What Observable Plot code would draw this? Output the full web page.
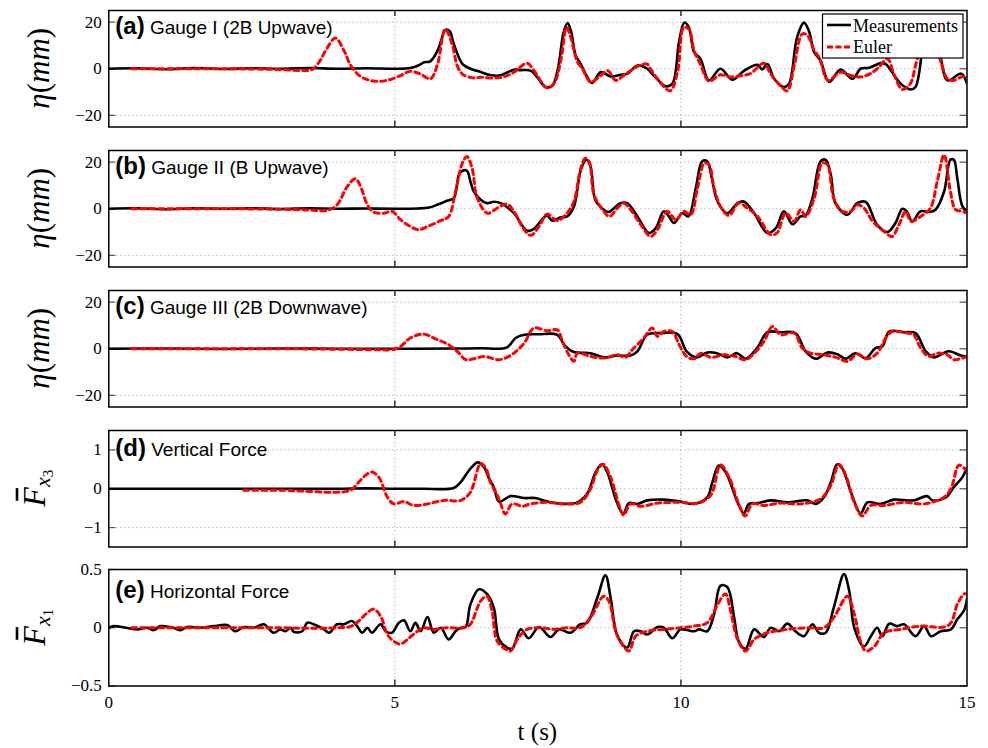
<!DOCTYPE html>
<html><head><meta charset="utf-8">
<script src="https://cdn.jsdelivr.net/npm/d3@7"></script>
<script src="https://cdn.jsdelivr.net/npm/@observablehq/plot@0.6"></script>
<style>
html,body{margin:0;padding:0;background:#fff;}
#chart{position:relative;width:988px;height:748px;overflow:hidden;background:#fff;}
</style></head><body><div id="chart"></div>
<script>
// ---------- data ----------
const xDomain = [0, 15];
const xTickValues = [0, 5, 10, 15];
const xGridValues = [5, 10];
const panelLetters = ["(a)", "(b)", "(c)", "(d)", "(e)"];
const panelTitles = ["Gauge I (2B Upwave)", "Gauge II (B Upwave)", "Gauge III (2B Downwave)", "Vertical Force", "Horizontal Force"];
const seriesNames = ["Measurements", "Euler"];
const xAxisLabel = "t (s)";
const yDomains = [[-25, 25], [-25, 25], [-25, 25], [-1.5, 1.5], [-0.5, 0.5]];
const yTickValues = [[-20, 0, 20], [-20, 0, 20], [-20, 0, 20], [-1, 0, 1], [-0.5, 0, 0.5]];

const measA = [[0,0],[0.5,0.2],[1,-0.2],[1.5,0.3],[2,-0.1],[2.5,0.2],[3,0],[3.5,0.3],[4,0],[4.5,0.2],[5,0],[5.27,0.3],[5.42,1.5],[5.51,2.8],[5.62,3.2],[5.75,8],[5.89,16.8],[5.96,16],[6.03,10.6],[6.18,2.1],[6.3,0.2],[6.38,-0.5],[6.5,-1.4],[6.68,-2.8],[6.85,-2.8],[7.08,-0.4],[7.2,-0.6],[7.37,-0.8],[7.5,-4],[7.63,-7.8],[7.75,-7.3],[7.85,0],[7.95,15.6],[8.02,19.6],[8.08,16],[8.16,5.7],[8.25,2],[8.35,-3],[8.45,-6.1],[8.6,-1.4],[8.77,-3.3],[8.95,-2.6],[9.06,-2.2],[9.24,1.4],[9.41,0],[9.53,-3],[9.73,-7.5],[9.85,-6.4],[9.97,12],[10.06,19.8],[10.14,17.7],[10.23,7.1],[10.34,4.3],[10.49,-5],[10.69,0],[10.9,-4.7],[11.1,-0.9],[11.34,1.7],[11.42,-0.3],[11.51,2],[11.63,-4.3],[11.8,-7.9],[11.89,-6.4],[12.03,13.5],[12.15,19.8],[12.24,16],[12.33,7.1],[12.44,3.5],[12.59,-5.7],[12.79,-0.3],[13.0,-4.3],[13.14,0],[13.29,0.4],[13.49,2.4],[13.58,2],[13.67,-0.7],[13.84,-6.4],[14.01,-8.9],[14.1,-7.8],[14.22,7.8],[14.33,19.5],[14.42,18],[14.54,4.9],[14.66,-5],[14.9,-2.1],[15,-6.4]];
const eulerA = [[0.4,0],[1,0],[1.5,0],[2,0],[2.5,-0.1],[2.9,-0.3],[3.35,-0.7],[3.55,-0.4],[3.68,3],[3.79,7.8],[3.96,13.2],[4.11,7.8],[4.23,1.4],[4.4,-3.3],[4.63,-5.3],[4.86,-5],[5.1,-2.9],[5.27,-1.1],[5.45,-2.3],[5.62,-4.3],[5.74,1.4],[5.88,17],[6.0,10.6],[6.09,1.4],[6.18,-2.3],[6.38,-4],[6.5,-3.6],[6.67,-4],[6.9,-3.5],[7.08,-1.5],[7.31,2.4],[7.43,-0.7],[7.66,-8.3],[7.78,-6.4],[7.9,3.5],[8.0,17.7],[8.07,13.8],[8.19,3],[8.28,0],[8.42,-5.7],[8.6,-2.9],[8.72,-0.8],[8.86,-5],[9.0,-2.9],[9.24,1],[9.41,2],[9.47,-0.2],[9.59,-4.3],[9.81,-9.5],[9.94,-1.5],[10.05,17.7],[10.14,17],[10.23,7.8],[10.34,2],[10.49,-5.3],[10.69,-2.6],[10.85,-3.5],[11.05,-3],[11.22,-2],[11.45,2.4],[11.57,-2.3],[11.74,-7.3],[11.86,-9.5],[11.98,1.4],[12.12,14.9],[12.21,14.4],[12.33,7.8],[12.42,4.7],[12.57,-5],[12.79,-1.5],[12.97,-2.9],[13.14,-3.5],[13.32,-2],[13.46,0.7],[13.61,4.3],[13.73,-2.9],[13.87,-8.9],[14.01,-6.4],[14.1,1.4],[14.19,9.8],[14.3,17],[14.4,15],[14.51,5.7],[14.66,-4.3],[14.77,-5],[14.92,-3.3],[15,-3.6]];

const measB = [[0,0],[0.5,0.2],[1,-0.2],[1.5,0.2],[2,0],[2.5,0.2],[3,-0.1],[3.5,0.2],[4,0],[4.5,0.1],[5,0],[5.4,0.1],[5.6,0.5],[5.74,1.7],[5.91,3.4],[6.03,4.6],[6.12,14.6],[6.18,16.3],[6.26,16.3],[6.32,11.7],[6.38,7.4],[6.5,3.9],[6.61,2.4],[6.73,3],[6.85,2.4],[7.08,-1.9],[7.31,-9.4],[7.43,-8.6],[7.57,-4.7],[7.66,-2.9],[7.75,-5.1],[7.9,-3.7],[8.01,-3.3],[8.13,1],[8.25,16.7],[8.35,21],[8.42,18.1],[8.5,3.9],[8.59,1],[8.73,-1.4],[8.94,2.4],[9.06,2.4],[9.24,-3.3],[9.44,-10.4],[9.56,-8.3],[9.7,-1.1],[9.79,-3.3],[9.88,-6.1],[10.02,-1.9],[10.13,-3.3],[10.26,8.9],[10.37,20.3],[10.46,20.3],[10.54,13.1],[10.64,3.1],[10.81,-1.9],[10.99,2.4],[11.1,3.1],[11.28,-1.9],[11.51,-10.4],[11.66,-8.3],[11.8,-1.1],[11.95,-6.6],[12.09,-3.3],[12.18,-2.9],[12.3,4.6],[12.44,20.3],[12.53,21],[12.62,14.6],[12.7,2.4],[12.91,-2.6],[13.08,2.4],[13.23,2.9],[13.43,-6.9],[13.61,-10],[13.75,-6.1],[13.87,0],[13.95,-1.1],[14.04,-5.4],[14.19,-1.1],[14.34,-1.4],[14.45,-0.4],[14.6,7.4],[14.71,21],[14.77,21],[14.83,13.1],[14.92,1],[15,-1.1]];
const eulerB = [[0.4,0],[1,0],[2,0],[3,-0.2],[3.5,-0.5],[3.82,-0.7],[3.99,1.7],[4.17,9.6],[4.31,12.9],[4.4,9.6],[4.52,1.7],[4.63,-1.4],[4.81,-1.9],[4.95,-1.1],[5.1,-4.7],[5.27,-7.6],[5.42,-9],[5.57,-7.6],[5.8,-5.1],[5.94,-3.3],[6.06,7.4],[6.18,19.6],[6.26,22.4],[6.35,17.4],[6.44,4.6],[6.62,-1.9],[6.79,0.3],[6.96,2],[7.08,-1.1],[7.26,-9],[7.38,-11.4],[7.52,-7.6],[7.66,-2.3],[7.84,-5.1],[8.01,-1.9],[8.13,3.1],[8.25,17.4],[8.33,21.7],[8.4,20],[8.48,6],[8.63,-0.4],[8.75,-3.3],[8.89,0.3],[9.0,2.4],[9.12,-0.4],[9.3,-6.9],[9.47,-11.9],[9.59,-9],[9.76,-1.1],[9.91,-4.7],[10.05,-1.1],[10.17,-2.6],[10.29,8.9],[10.41,19.6],[10.49,18.9],[10.58,8.9],[10.69,1],[10.84,-2.9],[11.01,2.4],[11.16,0.3],[11.34,-3.3],[11.57,-11.1],[11.68,-10.4],[11.83,-1.9],[11.98,-5.4],[12.09,-0.4],[12.18,-3.3],[12.33,4.6],[12.47,19.6],[12.56,18.9],[12.67,4.6],[12.82,-1.1],[12.97,-1.1],[13.08,1.7],[13.2,0.3],[13.35,-5.4],[13.55,-9.7],[13.69,-11.9],[13.81,-6.9],[13.93,-1.1],[14.02,-5.4],[14.19,-3.3],[14.36,0.3],[14.48,11.7],[14.6,23.1],[14.71,7.4],[14.8,-0.4],[14.92,-1.1],[15,-1.9]];

const measC = [[0,0],[1,0.1],[2,-0.1],[3,0.1],[4,0],[5,0],[6,0.1],[6.5,0.2],[6.96,0.6],[7.11,4.6],[7.26,6],[7.5,6.2],[7.84,6],[7.96,1.7],[8.13,-1.4],[8.42,-1.9],[8.66,-3.7],[8.89,-2.9],[9.12,-2.9],[9.24,-1.1],[9.41,6],[9.64,6.7],[9.94,6.3],[10.1,-1.1],[10.28,-3.7],[10.46,-1.6],[10.63,-1.9],[10.81,-3.7],[10.98,-1.9],[11.13,-4.3],[11.33,0.3],[11.51,7.1],[11.74,7.1],[12.0,6.7],[12.18,-1.1],[12.36,-4.3],[12.56,-1.6],[12.73,-2.3],[12.88,-4.3],[13.05,-1.9],[13.23,-4],[13.4,0.3],[13.52,1],[13.64,7.4],[13.9,7.1],[14.1,6.7],[14.28,-1.1],[14.42,-3.7],[14.68,-1.1],[14.89,-2.9],[15,-3.3]];
const eulerC = [[0.4,0],[1,0],[2,0],[3,0],[4,-0.2],[4.6,-0.4],[4.98,-0.3],[5.1,1],[5.27,4.6],[5.5,6.3],[5.68,4.6],[5.94,1.7],[6.09,-1.1],[6.24,-4.7],[6.38,-4.3],[6.56,-3.3],[6.79,-4.7],[6.9,-4.3],[7.08,-1.9],[7.26,2.4],[7.43,8.9],[7.66,7.7],[7.84,8.1],[7.93,3.1],[8.04,-2.6],[8.13,-5.4],[8.19,-1.9],[8.42,-3.3],[8.66,-4],[8.89,-2.6],[9.03,-3.7],[9.15,-0.4],[9.35,4.6],[9.5,8.9],[9.59,5.3],[9.7,7.4],[9.85,7.4],[9.97,1.7],[10.1,-3.3],[10.23,-4.3],[10.35,-1.9],[10.52,-3.7],[10.76,-2.6],[10.95,-3.3],[11.13,-4.7],[11.28,-1.9],[11.45,3.1],[11.6,9.6],[11.74,6],[11.98,6.7],[12.12,0.3],[12.27,-1.9],[12.5,-2.6],[12.71,-3.7],[12.91,-5.4],[13.08,-2.3],[13.26,-4.3],[13.43,-1.9],[13.58,4.6],[13.69,7.4],[13.96,6.7],[14.07,6],[14.19,0.3],[14.33,-3.3],[14.48,-1.9],[14.66,-2.6],[14.77,-4.7],[15,-3.3]];

const measD = [[0,0],[1,0],[2,0],[3,0],[4,0],[4.5,0.01],[5,0],[5.5,0],[6.03,0.02],[6.15,0.17],[6.32,0.52],[6.45,0.68],[6.56,0.55],[6.65,0.25],[6.73,0.04],[6.82,-0.33],[7.02,-0.19],[7.26,-0.24],[7.45,-0.24],[7.66,-0.33],[7.95,-0.39],[8.19,-0.35],[8.36,-0.13],[8.51,0.43],[8.62,0.63],[8.71,0.43],[8.88,-0.35],[8.99,-0.65],[9.09,-0.37],[9.24,-0.39],[9.41,-0.3],[9.7,-0.28],[9.99,-0.33],[10.23,-0.39],[10.46,-0.22],[10.55,0.17],[10.66,0.6],[10.78,0.43],[10.99,-0.35],[11.1,-0.63],[11.19,-0.39],[11.34,-0.37],[11.57,-0.3],[11.86,-0.35],[12.21,-0.3],[12.36,-0.39],[12.5,-0.22],[12.62,0.17],[12.73,0.63],[12.82,0.52],[12.99,-0.17],[13.14,-0.63],[13.26,-0.35],[13.49,-0.39],[13.72,-0.28],[14.07,-0.3],[14.3,-0.19],[14.4,-0.3],[14.63,-0.22],[14.77,0.04],[14.92,0.3],[15,0.54]];
const eulerD = [[2.36,-0.04],[3.06,-0.04],[3.5,-0.07],[3.93,-0.09],[4.22,-0.04],[4.37,0.17],[4.49,0.35],[4.6,0.43],[4.72,0.3],[4.87,-0.22],[4.98,-0.39],[5.16,-0.33],[5.33,-0.43],[5.57,-0.39],[5.86,-0.3],[6.15,-0.3],[6.32,-0.09],[6.5,0.65],[6.6,0.5],[6.67,0.17],[6.79,-0.17],[6.85,-0.39],[6.93,-0.65],[7.05,-0.39],[7.23,-0.45],[7.37,-0.39],[7.66,-0.35],[7.95,-0.39],[8.24,-0.35],[8.42,0],[8.54,0.48],[8.64,0.63],[8.77,0.3],[8.92,-0.43],[9.0,-0.68],[9.12,-0.39],[9.3,-0.45],[9.59,-0.37],[9.99,-0.35],[10.29,-0.37],[10.52,-0.17],[10.69,0.61],[10.84,0.3],[11.02,-0.43],[11.12,-0.7],[11.25,-0.39],[11.45,-0.43],[11.74,-0.37],[12.09,-0.39],[12.44,-0.26],[12.62,0.09],[12.76,0.63],[12.88,0.35],[13.03,-0.35],[13.17,-0.7],[13.32,-0.43],[13.55,-0.43],[13.9,-0.35],[14.25,-0.39],[14.6,-0.22],[14.72,0],[14.86,0.61],[14.98,0.48]];

const measE = [[0,0],[0.09,0.014],[0.3,0],[0.5,-0.014],[0.67,0],[0.79,-0.02],[0.9,0.014],[1.13,0],[1.25,-0.02],[1.37,0.006],[1.6,0],[1.84,0.014],[2.07,0.023],[2.21,-0.03],[2.36,0.006],[2.54,0],[2.71,0.03],[2.88,-0.043],[3.0,-0.014],[3.09,-0.03],[3.18,0],[3.23,-0.035],[3.38,-0.03],[3.47,0.043],[3.61,0.023],[3.76,-0.014],[3.85,-0.043],[3.99,0.03],[4.11,0.03],[4.25,0.058],[4.34,0.014],[4.43,-0.043],[4.52,0],[4.6,-0.043],[4.75,0.03],[4.84,-0.03],[4.95,-0.043],[5.07,0.043],[5.16,0.064],[5.27,-0.03],[5.36,0.043],[5.45,-0.03],[5.57,0.092],[5.68,-0.043],[5.8,0],[5.94,-0.1],[6.06,-0.03],[6.15,0],[6.24,0.01],[6.32,0.2],[6.47,0.33],[6.61,0.29],[6.73,0.17],[6.82,-0.1],[6.96,-0.17],[7.05,-0.18],[7.2,-0.014],[7.34,-0.09],[7.52,0.006],[7.72,-0.08],[7.87,-0.014],[8.07,-0.043],[8.24,0.03],[8.36,0.043],[8.54,0.26],[8.68,0.45],[8.77,0.26],[8.89,-0.07],[9.06,-0.17],[9.18,-0.03],[9.3,-0.03],[9.41,-0.058],[9.59,0.006],[9.7,0],[9.85,-0.09],[9.99,-0.014],[10.11,-0.02],[10.23,-0.03],[10.32,-0.014],[10.46,-0.03],[10.58,0.116],[10.69,0.36],[10.81,0.35],[10.93,0.087],[11.01,-0.116],[11.13,-0.18],[11.28,-0.014],[11.45,-0.08],[11.57,0],[11.72,-0.03],[11.86,0.035],[12.0,-0.03],[12.15,-0.072],[12.3,0.03],[12.41,-0.043],[12.53,-0.043],[12.67,0.17],[12.85,0.46],[12.94,0.32],[13.03,0],[13.2,-0.16],[13.32,-0.072],[13.43,0],[13.52,-0.072],[13.64,0.035],[13.78,0.014],[13.9,0.03],[14.1,-0.072],[14.25,0.014],[14.37,-0.072],[14.54,-0.03],[14.72,-0.014],[14.83,0.072],[14.95,0.15],[15,0.25]];
const eulerE = [[0.4,0],[1,0],[2,0],[3,0],[3.5,-0.005],[4.0,0],[4.22,0.01],[4.37,0.058],[4.52,0.13],[4.63,0.16],[4.75,0.1],[4.87,-0.058],[4.98,-0.116],[5.1,-0.14],[5.22,-0.1],[5.36,-0.043],[5.51,0],[5.68,-0.014],[5.9,0],[6.21,0],[6.32,0.03],[6.5,0.23],[6.61,0.27],[6.7,0.14],[6.79,-0.116],[6.96,-0.19],[7.02,-0.2],[7.14,-0.1],[7.31,-0.014],[7.55,0],[7.78,-0.014],[8.01,0],[8.24,0],[8.42,0.087],[8.65,0.27],[8.74,0.23],[8.86,-0.03],[8.97,-0.14],[9.09,-0.2],[9.21,-0.072],[9.41,-0.03],[9.7,-0.014],[9.99,0],[10.23,0.014],[10.46,0.043],[10.64,0.2],[10.78,0.29],[10.87,0.14],[10.99,-0.1],[11.13,-0.2],[11.28,-0.1],[11.51,-0.043],[11.86,-0.014],[12.21,0],[12.5,0],[12.67,0.087],[12.91,0.27],[13.03,0.116],[13.14,-0.116],[13.23,-0.2],[13.38,-0.16],[13.55,-0.043],[13.84,-0.014],[14.19,0.014],[14.6,0.006],[14.72,0.043],[14.83,0.2],[14.95,0.29],[15,0.29]];

const measSeries = [measA, measB, measC, measD, measE];
const eulerSeries = [eulerA, eulerB, eulerC, eulerD, eulerE];

// ---------- layout ----------
const W = 988, ML = 108.3, MR = 21.5, MT = 10, AREA_H = 116.5;
const AREA_W = W - ML - MR;
const panelTops = [0, 139.5, 279.5, 419.5, 559];
const titleOffsets = [24, 24, 24, 25.7, 29.3];
const SERIF = "'Liberation Serif', 'Times New Roman', serif";
const SANS = "'Liberation Sans', Arial, Helvetica, sans-serif";
const fmt = d => (d < 0 ? "\u2212" : "") + Math.abs(d);
const container = document.getElementById("chart");

function buildPanel(i) {
  const last = i === 4;
  const H = last ? 748 - panelTops[i] : 140;
  const MB = H - MT - AREA_H;
  const yt = yTickValues[i];
  const yd = yDomains[i];
  const marks = [
    Plot.gridY({ticks: yt.filter(v => v > yd[0] && v < yd[1]), stroke: "#a0a0a0", strokeOpacity: 1, strokeWidth: 1, strokeDasharray: "1,3"}),
    Plot.gridX({ticks: xGridValues, stroke: "#a0a0a0", strokeOpacity: 1, strokeWidth: 1, strokeDasharray: "1,3"}),
    Plot.ruleX(xGridValues, {stroke: "#000", strokeWidth: 1.2, insetBottom: AREA_H - 6}),
    Plot.ruleX(xGridValues, {stroke: "#000", strokeWidth: 1.2, insetTop: AREA_H - 6}),
    Plot.ruleY(yt, {stroke: "#555", strokeWidth: 1.2, insetRight: AREA_W - 7}),
    Plot.ruleY(yt, {stroke: "#555", strokeWidth: 1.2, insetLeft: AREA_W - 7}),
    Plot.line(measSeries[i], {x: d => d[0], y: d => d[1], stroke: "#000", strokeWidth: 2.6, curve: "catmull-rom", clip: true}),
    Plot.line(eulerSeries[i], {x: d => d[0], y: d => d[1], stroke: "#ff0000", strokeWidth: 3, strokeDasharray: "5,4", curve: "catmull-rom", clip: true}),
    Plot.frame({stroke: "#000", strokeWidth: 1.5}),
    Plot.axisY({ticks: yt, tickSize: 0, tickPadding: 7, tickFormat: fmt, fontSize: 17, fill: "#000"})
  ];
  if (last) {
    marks.push(Plot.axisX({ticks: xTickValues, tickSize: 0, tickPadding: 10, tickFormat: d => String(d), fontSize: 17, fill: "#000"}));
  }
  const svg = Plot.plot({
    width: W, height: H,
    marginLeft: ML, marginRight: MR, marginTop: MT, marginBottom: MB,
    x: {domain: xDomain, axis: last ? undefined : null},
    y: {domain: yd},
    style: {fontFamily: SERIF, fontSize: "17px", background: "transparent", color: "#000", overflow: "visible"},
    marks
  });
  svg.style.position = "absolute";
  svg.style.left = "0px";
  svg.style.top = panelTops[i] + "px";
  container.appendChild(svg);

  const s = d3.select(svg);
  const cy = MT + AREA_H / 2;
  // panel title
  const tt = s.append("text").attr("x", ML + 7).attr("y", MT + titleOffsets[i]).attr("fill", "#000")
    .attr("font-family", SANS).attr("text-anchor", "start");
  tt.append("tspan").attr("font-weight", "bold").attr("font-size", 24).text(panelLetters[i]);
  tt.append("tspan").attr("font-size", 19).text(" " + panelTitles[i]);

  // y label
  if (i < 3) {
    const g = s.append("g").attr("transform", `translate(49,${cy}) rotate(-90)`);
    const t = g.append("text").attr("text-anchor", "middle").attr("font-family", SERIF).attr("font-size", 31).attr("fill", "#000");
    t.append("tspan").attr("font-style", "italic").text("\u03b7");
    t.append("tspan").text("(");
    t.append("tspan").attr("font-style", "italic").text("mm");
    t.append("tspan").text(")");
  } else {
    const g = s.append("g").attr("transform", `translate(45,${cy}) rotate(-90)`);
    const t = g.append("text").attr("font-family", SERIF).attr("fill", "#000").attr("text-anchor", "start");
    t.append("tspan").attr("font-style", "italic").attr("font-size", 32).text("F");
    t.append("tspan").attr("font-style", "italic").attr("font-size", 22).attr("dy", 5).text("x");
    t.append("tspan").attr("font-size", 15).attr("dy", 3).text(i === 3 ? "3" : "1");
    const L = t.node().getComputedTextLength();
    t.attr("x", -L / 2);
    const fw = t.node().getSubStringLength(0, 1);
    g.append("line").attr("x1", -L / 2 + fw * 0.3).attr("x2", -L / 2 + fw * 0.95)
      .attr("y1", -28).attr("y2", -28).attr("stroke", "#000").attr("stroke-width", 2.6);
  }

  if (i === 0) {
    // legend
    const lg = s.append("g").attr("text-anchor", "start");
    lg.append("rect").attr("x", 822.5).attr("y", 14).attr("width", 140.5).attr("height", 44)
      .attr("fill", "#fff").attr("stroke", "#000").attr("stroke-width", 1.2);
    lg.append("line").attr("x1", 827).attr("x2", 851).attr("y1", 25).attr("y2", 25).attr("stroke", "#000").attr("stroke-width", 2.6);
    lg.append("text").attr("x", 853).attr("y", 32).attr("text-anchor", "start").attr("font-family", SERIF).attr("font-size", 18).attr("fill", "#000").text(seriesNames[0]);
    lg.append("line").attr("x1", 827).attr("x2", 851).attr("y1", 47).attr("y2", 47).attr("stroke", "#ff0000").attr("stroke-width", 3).attr("stroke-dasharray", "6,2.5");
    lg.append("text").attr("x", 853).attr("y", 53).attr("text-anchor", "start").attr("font-family", SERIF).attr("font-size", 18).attr("fill", "#000").text(seriesNames[1]);
  }
  if (last) {
    s.append("text").attr("x", ML + AREA_W / 2).attr("y", 740 - panelTops[i]).attr("text-anchor", "middle")
      .attr("font-family", SERIF).attr("font-size", 25).attr("fill", "#000").text(xAxisLabel);
  }
}
for (let i = 0; i < 5; i++) buildPanel(i);
</script>
</body></html>
